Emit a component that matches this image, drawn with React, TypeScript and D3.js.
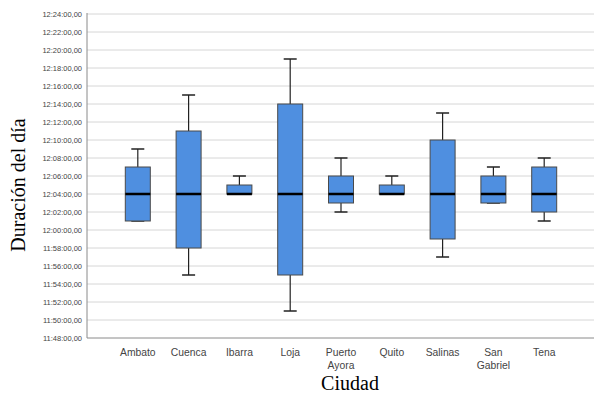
import React from "react";
import * as d3 from "d3";

const cities = ["Ambato", "Cuenca", "Ibarra", "Loja", "Puerto Ayora", "Quito", "Salinas", "San Gabriel", "Tena"];
const cityLabels = [["Ambato"], ["Cuenca"], ["Ibarra"], ["Loja"], ["Puerto", "Ayora"], ["Quito"], ["Salinas"], ["San", "Gabriel"], ["Tena"]];
// minutes relative to 12:00:00
const minVals = [1, -5, 4, -9, 2, 4, -3, 3, 1];
const q1Vals = [1, -2, 4, -5, 3, 4, -1, 3, 2];
const medVals = [4, 4, 4, 4, 4, 4, 4, 4, 4];
const q3Vals = [7, 11, 5, 14, 6, 5, 10, 6, 7];
const maxVals = [9, 15, 6, 19, 8, 6, 13, 7, 8];
const yTicks = d3.range(-12, 25, 2);

function fmt(m: number) {
  const total = 12 * 60 + m;
  const h = Math.floor(total / 60);
  const mm = total % 60;
  return `${h}:${String(mm).padStart(2, "0")}:00,00`;
}

export default function App() {
  const W = 595, H = 396;
  const left = 87, right = 595, top = 14, bottom = 338;
  const x = d3.scaleLinear().domain([0, 10]).range([left, right]);
  const y = d3.scaleLinear().domain([-12, 24]).range([bottom, top]);
  const boxW = 25, capW = 13;
  return (
    <svg width={W} height={H} style={{ position: "absolute", left: 0, top: 0 }}>
      <rect width={W} height={H} fill="#fff" />
      {yTicks.map((t) => (
        <g key={t}>
          {t > -12 && (
            <line x1={left} x2={right - 1} y1={y(t)} y2={y(t)} stroke="#d6d6d6" strokeWidth={1} />
          )}
          <text x={left - 5} y={y(t) + 3} textAnchor="end" fontFamily="Liberation Sans, Arial" fontSize={7.5} fill="#444">
            {fmt(t)}
          </text>
        </g>
      ))}
      <line x1={left} x2={left} y1={top - 1} y2={bottom} stroke="#8a8a8a" />
      <line x1={left} x2={right - 1} y1={bottom} y2={bottom} stroke="#8a8a8a" />
      {cities.map((c, i) => {
        const cx = x(i + 1);
        return (
          <g key={c}>
            <line x1={cx} x2={cx} y1={y(maxVals[i])} y2={y(q3Vals[i])} stroke="#222" strokeWidth={1.2} />
            <line x1={cx} x2={cx} y1={y(q1Vals[i])} y2={y(minVals[i])} stroke="#222" strokeWidth={1.2} />
            <line x1={cx - capW / 2} x2={cx + capW / 2} y1={y(maxVals[i])} y2={y(maxVals[i])} stroke="#222" strokeWidth={1.5} />
            <line x1={cx - capW / 2} x2={cx + capW / 2} y1={y(minVals[i])} y2={y(minVals[i])} stroke="#222" strokeWidth={1.5} />
            <rect x={cx - boxW / 2} y={y(q3Vals[i])} width={boxW} height={y(q1Vals[i]) - y(q3Vals[i])} fill="#4f8fe0" stroke="#4a4a4a" strokeWidth={1} />
            <line x1={cx - boxW / 2} x2={cx + boxW / 2} y1={y(medVals[i])} y2={y(medVals[i])} stroke="#000" strokeWidth={2.5} />
            <text x={cx} y={356} textAnchor="middle" fontFamily="Liberation Sans, Arial" fontSize={11} fill="#444" transform={`translate(${cx},0) scale(0.94,1) translate(${-cx},0)`}>
              {cityLabels[i].map((l, k) => (
                <tspan key={k} x={cx} dy={k === 0 ? 0 : 13}>{l}</tspan>
              ))}
            </text>
          </g>
        );
      })}
      <text x={350} y={390} textAnchor="middle" fontFamily="Liberation Serif, Times New Roman" fontSize={20} fill="#000">Ciudad</text>
      <text transform={`translate(25,185) rotate(-90)`} textAnchor="middle" fontFamily="Liberation Serif, Times New Roman" fontSize={20} fill="#000">Duración del día</text>
    </svg>
  );
}
